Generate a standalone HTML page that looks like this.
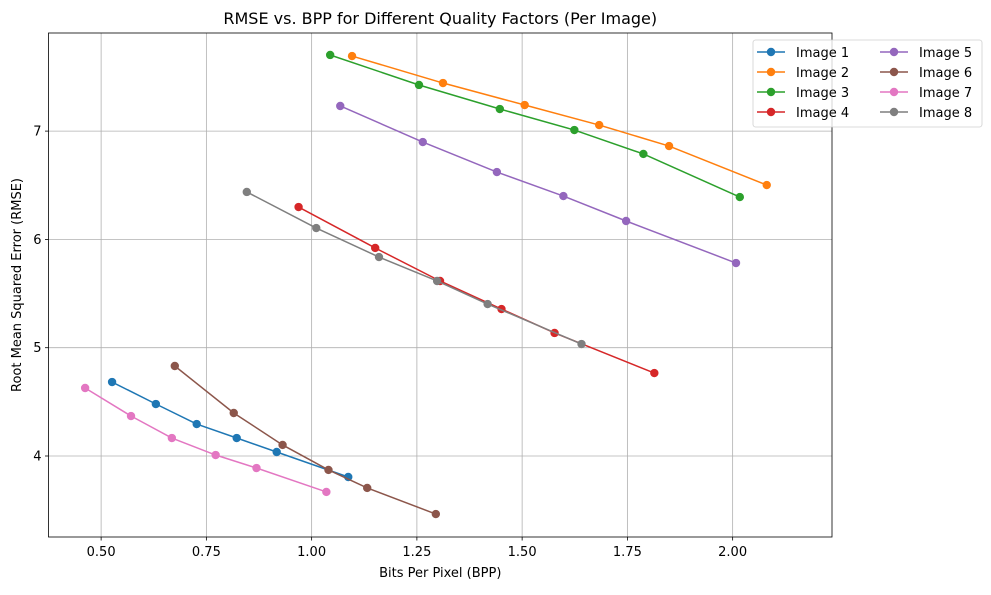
<!DOCTYPE html>
<html><head><meta charset="utf-8"><style>
body{margin:0;background:#fff;font-family:"Liberation Sans","DejaVu Sans",sans-serif;}
svg text{font-family:"DejaVu Sans","Liberation Sans",sans-serif;}
</style></head><body>
<svg id="chart" width="991" height="590" xmlns="http://www.w3.org/2000/svg">
<g id="grid"></g><g id="series"></g><g id="axes"></g><g id="legend"></g>
</svg>
<script>
const seriesNames=["Image 1","Image 2","Image 3","Image 4","Image 5","Image 6","Image 7","Image 8"];
const colors=["#1f77b4","#ff7f0e","#2ca02c","#d62728","#9467bd","#8c564b","#e377c2","#7f7f7f"];
const bpp1=[0.526,0.630,0.727,0.822,0.917,1.087];
const rmse1=[4.683,4.480,4.295,4.166,4.037,3.806];
const bpp2=[1.096,1.312,1.506,1.683,1.849,2.081];
const rmse2=[7.693,7.444,7.241,7.056,6.862,6.502];
const bpp3=[1.044,1.255,1.447,1.624,1.788,2.017];
const rmse3=[7.703,7.426,7.204,7.010,6.789,6.391];
const bpp4=[0.969,1.151,1.305,1.451,1.577,1.814];
const rmse4=[6.299,5.921,5.616,5.357,5.136,4.766];
const bpp5=[1.068,1.264,1.440,1.598,1.747,2.008];
const rmse5=[7.232,6.899,6.622,6.400,6.170,5.782];
const bpp6=[0.675,0.815,0.931,1.040,1.132,1.295];
const rmse6=[4.831,4.397,4.102,3.871,3.705,3.464];
const bpp7=[0.462,0.571,0.668,0.772,0.869,1.035];
const rmse7=[4.628,4.369,4.166,4.009,3.889,3.668];
const bpp8=[0.846,1.011,1.160,1.298,1.418,1.641];
const rmse8=[6.438,6.105,5.837,5.616,5.403,5.034];
const xTicks=[0.50,0.75,1.00,1.25,1.50,1.75,2.00];
const xTickLabels=["0.50","0.75","1.00","1.25","1.50","1.75","2.00"];
const yTicks=[4,5,6,7];
const yTickLabels=["4","5","6","7"];

const NS="http://www.w3.org/2000/svg";
const L=48.5,R=832,T=33,B=537;
const xMin=0.375,xMax=2.236,yMin=3.252,yMax=7.906;
function xs(v){return L+(v-xMin)/(xMax-xMin)*(R-L);}
function ys(v){return B-(v-yMin)/(yMax-yMin)*(B-T);}
function mk(tag,attrs,parent){const e=document.createElementNS(NS,tag);for(const k in attrs)e.setAttribute(k,attrs[k]);parent.appendChild(e);return e;}
const grid=document.getElementById('grid'),axes=document.getElementById('axes'),ser=document.getElementById('series'),leg=document.getElementById('legend');
const FS=13;

xTicks.forEach((t,i)=>{const x=xs(t);
 const g=mk('line',{x1:x,x2:x,y1:T,y2:B,stroke:'#b0b0b0','stroke-width':0.8},grid);
 
 mk('line',{x1:x,x2:x,y1:B,y2:B+3.5,stroke:'#000','stroke-width':0.8},axes);
 const tx=mk('text',{x:x,y:B+19,'text-anchor':'middle','font-size':FS,fill:'#000'},axes);tx.textContent=xTickLabels[i];
 });
yTicks.forEach((t,i)=>{const y=ys(t);
 const g=mk('line',{x1:L,x2:R,y1:y,y2:y,stroke:'#b0b0b0','stroke-width':0.8},grid);
 
 mk('line',{x1:L-3.5,x2:L,y1:y,y2:y,stroke:'#000','stroke-width':0.8},axes);
 const tx=mk('text',{x:L-7,y:y+4.5,'text-anchor':'end','font-size':FS,fill:'#000'},axes);tx.textContent=yTickLabels[i];
 });
const frame=mk('rect',{x:L,y:T,width:R-L,height:B-T,fill:'none',stroke:'#000','stroke-width':0.8},axes);

let t1=mk('text',{x:(L+R)/2,y:24,'text-anchor':'middle','font-size':16,fill:'#000'},axes);t1.textContent="RMSE vs. BPP for Different Quality Factors (Per Image)";

let t2=mk('text',{x:(L+R)/2,y:577,'text-anchor':'middle','font-size':FS,fill:'#000'},axes);t2.textContent="Bits Per Pixel (BPP)";

let t3=mk('text',{x:21,y:(T+B)/2,'text-anchor':'middle','font-size':FS,fill:'#000',transform:`rotate(-90 21 ${(T+B)/2})`},axes);t3.textContent="Root Mean Squared Error (RMSE)";


const X=[bpp1,bpp2,bpp3,bpp4,bpp5,bpp6,bpp7,bpp8],Y=[rmse1,rmse2,rmse3,rmse4,rmse5,rmse6,rmse7,rmse8];
X.forEach((xa,s)=>{const g=mk('g',{},ser);
 
 const pts=xa.map((v,i)=>xs(v)+','+ys(Y[s][i])).join(' ');
 const pl=mk('polyline',{points:pts,fill:'none',stroke:colors[s],'stroke-width':1.5},g);
 
 xa.forEach((v,i)=>{const c=mk('circle',{cx:xs(v),cy:ys(Y[s][i]),r:4.2,fill:colors[s]},g);
  });});

const lb=mk('rect',{x:753,y:40,width:229,height:87,rx:2.5,fill:'#fff','fill-opacity':0.8,stroke:'#d0d0d0','stroke-width':0.8},leg);

seriesNames.forEach((n,s)=>{const col=s<4?0:1,row=s%4;const x0=col?880:757,y0=52+row*20;
 const g=mk('g',{},leg);
 mk('line',{x1:x0,x2:x0+28,y1:y0,y2:y0,stroke:colors[s],'stroke-width':1.5},g);
 mk('circle',{cx:x0+14,cy:y0,r:4.2,fill:colors[s]},g);
 const t=mk('text',{x:x0+39,y:y0+5,'font-size':FS,fill:'#000'},g);t.textContent=n;});
</script>
</body></html>
